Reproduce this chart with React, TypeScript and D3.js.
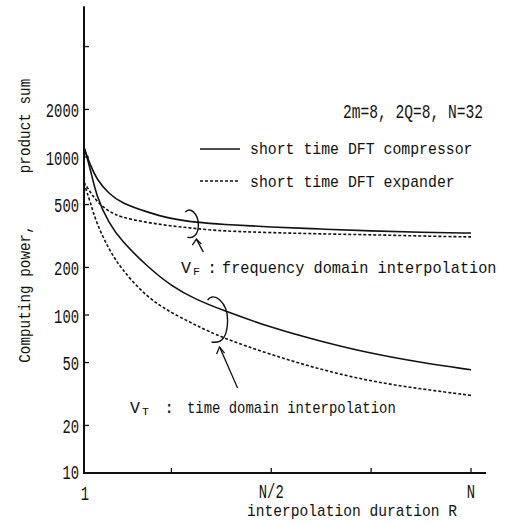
import React from 'react';
import * as d3 from 'd3';

// Interpolation duration R (1 .. N, N = 32)
const R = [1, 1.5, 2, 3, 4, 6, 8, 10, 12, 16, 20, 24, 28, 32];
// V_F : frequency domain interpolation
const vfCompressor = [1150, 890, 725, 583, 512, 449, 405, 386, 375, 360, 350, 340, 334, 330];
const vfExpander = [690, 600, 525, 450, 415, 385, 366, 352, 340, 332, 326, 322, 316, 312];
// V_T : time domain interpolation
const vtCompressor = [1150, 850, 560, 380, 295, 205, 152, 125, 108, 83, 68, 57, 50, 45];
const vtExpander = [680, 520, 380, 260, 195, 130, 103, 86, 72, 56, 45, 38, 34, 31];

const yTicks = [5000, 2000, 1000, 500, 200, 100, 50, 20, 10];
const yTickLabels = ['', '2000', '1000', '500', '200', '100', '50', '20', '10'];
const xTicks = [8, 16, 24, 32];
const xLabelValues = [1, 16, 32];
const xLabels = ['1', 'N/2', 'N'];

const legendLabels = ['short time DFT compressor', 'short time DFT expander'];
const paramText = '2m=8, 2Q=8, N=32';
const xTitle = 'interpolation duration R';
const yTitleA = 'Computing power,';
const yTitleB = 'product sum';
const vfText = 'frequency domain interpolation';
const vtText = 'time domain interpolation';

const W = 505;
const H = 525;
const FONT = "'Liberation Mono', 'DejaVu Sans Mono', monospace";

const x = d3.scaleLinear().domain([1, 32]).range([84, 471]);
const y = d3.scaleLog().domain([10, 1000]).range([473, 157]);

type CT = {
  x: number;
  y: number;
  text: string;
  size: number;
  cw: number;
  anchor?: 'start' | 'middle' | 'end';
  transform?: string;
};
const CText = ({ x: tx, y: ty, text, size, cw, anchor = 'start', transform }: CT) => (
  <text
    x={tx}
    y={ty}
    fontFamily={FONT}
    fontSize={size}
    textAnchor={anchor}
    textLength={text.length * cw}
    lengthAdjust="spacingAndGlyphs"
    transform={transform}
    fill="#111"
  >
    {text}
  </text>
);

export default function App() {
  const line = d3
    .line<number>()
    .x((_, i) => x(R[i]))
    .y((d) => y(d))
    .curve(d3.curveBasis);

  const series = [
    { v: vfCompressor, dash: undefined },
    { v: vfExpander, dash: '3,2' },
    { v: vtCompressor, dash: undefined },
    { v: vtExpander, dash: '3,2' },
  ];

  const yTop = y(9000);

  // annotation anchors (derived from scales)
  const fx = x(9.6);
  const fy = (y(390) + y(352)) / 2;
  const tx = x(11.7);
  const ty = (y(110) + y(74)) / 2;

  return (
    <svg
      width={W}
      height={H}
      style={{ position: 'absolute', left: 0, top: 0, background: '#fff' }}
    >
      <rect x={0} y={0} width={W} height={H} fill="#fff" />
      {/* axes */}
      <line x1={x(1)} x2={x(1)} y1={yTop} y2={y(10)} stroke="#111" strokeWidth={2} />
      <line x1={x(1) - 1} x2={486} y1={y(10)} y2={y(10)} stroke="#111" strokeWidth={2} />
      {yTicks.map((t, i) => (
        <g key={'yt' + t}>
          <line x1={x(1)} x2={x(1) + 5} y1={y(t)} y2={y(t)} stroke="#111" strokeWidth={1.3} />
          {yTickLabels[i] && (
            <CText
              x={79}
              y={y(t) + (t === 10 ? 6 : 7.5)}
              text={yTickLabels[i]}
              size={21}
              cw={8.3}
              anchor="end"
            />
          )}
        </g>
      ))}
      {xTicks.map((t) => (
        <line key={'xt' + t} x1={x(t)} x2={x(t)} y1={y(10)} y2={y(10) - 5} stroke="#111" strokeWidth={1.3} />
      ))}
      {xLabelValues.map((v, i) => (
        <CText
          key={'xl' + v}
          x={x(v) + (i === 0 ? 1 : 0)}
          y={i === 0 ? 500 : 498}
          text={xLabels[i]}
          size={21}
          cw={8.3}
          anchor="middle"
        />
      ))}
      <CText x={352} y={516} text={xTitle} size={17} cw={8.75} anchor="middle" />
      <CText x={0} y={0} text={yTitleB} size={17} cw={8.6} anchor="middle" transform="translate(30,126) rotate(-90)" />
      <CText x={0} y={0} text={yTitleA} size={17} cw={8.6} anchor="middle" transform="translate(30,294) rotate(-90)" />

      {/* curves */}
      {series.map((s, i) => (
        <path
          key={'s' + i}
          d={line(s.v) || ''}
          fill="none"
          stroke="#111"
          strokeWidth={1.6}
          strokeDasharray={s.dash}
        />
      ))}

      {/* parameters */}
      <CText x={483} y={118} text={paramText} size={21} cw={8.75} anchor="end" />

      {/* legend */}
      <line x1={200} x2={240} y1={149} y2={149} stroke="#111" strokeWidth={1.6} />
      <CText x={250} y={154} text={legendLabels[0]} size={17} cw={8.9} />
      <line x1={200} x2={240} y1={181} y2={181} stroke="#111" strokeWidth={1.6} strokeDasharray="3,2" />
      <CText x={250} y={187} text={legendLabels[1]} size={17} cw={8.9} />

      {/* V_F annotation */}
      <path
        d={`M${fx - 6},${fy - 13} C${fx - 2},${fy - 19} ${fx + 7},${fy - 12} ${fx + 7},${fy} C${fx + 7},${fy + 9} ${fx + 2},${fy + 14} ${fx - 4},${fy + 12}`}
        fill="none"
        stroke="#111"
        strokeWidth={1.4}
      />
      <path d={`M${fx + 12},${fy + 27} L${fx + 5},${fy + 14}`} fill="none" stroke="#111" strokeWidth={1.3} />
      <path d={`M${fx + 1},${fy + 20} L${fx + 5},${fy + 14} L${fx + 10},${fy + 19}`} fill="none" stroke="#111" strokeWidth={1.3} />
      <text x={181} y={273} fontFamily={FONT} fontSize={17} fill="#111" textLength={10} lengthAdjust="spacingAndGlyphs">V</text>
      <text x={193} y={275} fontFamily={FONT} fontSize={10} fill="#111" textLength={7} lengthAdjust="spacingAndGlyphs">F</text>
      <text x={207} y={273} fontFamily={FONT} fontSize={17} fill="#111">:</text>
      <CText x={222} y={273} text={vfText} size={17} cw={9.15} />

      {/* V_T annotation */}
      <path
        d={`M${tx - 10},${ty - 22} C${tx - 4},${ty - 31} ${tx + 10},${ty - 20} ${tx + 10},${ty - 2} C${tx + 10},${ty + 12} ${tx + 6},${ty + 22} ${tx - 6},${ty + 20}`}
        fill="none"
        stroke="#111"
        strokeWidth={1.4}
      />
      <path d={`M${tx + 20},${ty + 66} L${tx + 2},${ty + 25}`} fill="none" stroke="#111" strokeWidth={1.3} />
      <path d={`M${tx - 1},${ty + 32} L${tx + 2},${ty + 25} L${tx + 7},${ty + 31}`} fill="none" stroke="#111" strokeWidth={1.3} />
      <text x={130} y={413} fontFamily={FONT} fontSize={17} fill="#111" textLength={10} lengthAdjust="spacingAndGlyphs">V</text>
      <text x={142} y={415} fontFamily={FONT} fontSize={10} fill="#111" textLength={7} lengthAdjust="spacingAndGlyphs">T</text>
      <text x={164} y={413} fontFamily={FONT} fontSize={17} fill="#111">:</text>
      <CText x={187} y={413} text={vtText} size={17} cw={8.35} />
    </svg>
  );
}
